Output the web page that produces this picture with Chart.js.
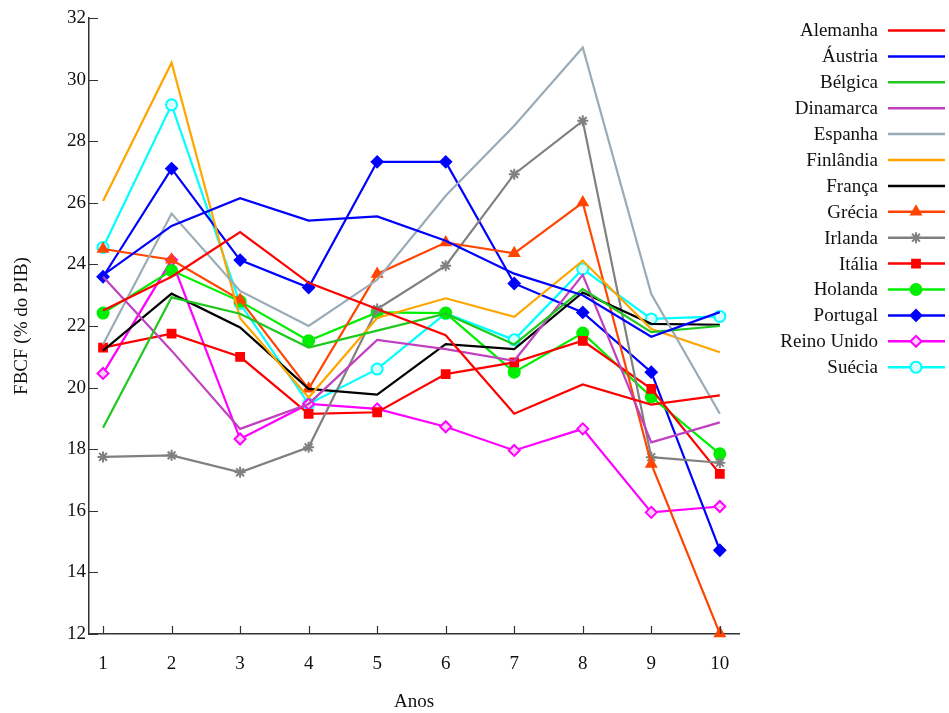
<!DOCTYPE html>
<html>
<head>
<meta charset="utf-8">
<script src="https://cdn.jsdelivr.net/npm/chart.js@4.4.1/dist/chart.umd.min.js"></script>
<style>
  html, body { margin: 0; padding: 0; background: #fff; }
  canvas { display: block; }
</style>
</head>
<body>
<canvas id="chart" width="949" height="713"></canvas>
<script>
// Anos 1..10
const anos = [1, 2, 3, 4, 5, 6, 7, 8, 9, 10];
const yTicks = [12, 14, 16, 18, 20, 22, 24, 26, 28, 30, 32];

// FBCF (% do PIB)
const alemanha   = [22.5, 23.6, 25.05, 23.4, 22.55, 21.7, 19.15, 20.1, 19.45, 19.75];
const austria    = [23.65, 25.25, 26.15, 25.42, 25.56, 24.77, 23.7, 23.0, 21.65, 22.45];
const belgica    = [18.7, 22.93, 22.4, 21.3, 21.85, 22.4, 21.4, 23.2, 21.8, 22.0];
const dinamarca  = [23.6, 21.2, 18.66, 19.47, 21.55, 21.25, 20.87, 23.66, 18.22, 18.87];
const espanha    = [21.4, 25.65, 23.14, 22.0, 23.5, 26.23, 28.5, 31.04, 23.04, 19.15];
const finlandia  = [26.06, 30.55, 22.25, 19.68, 22.26, 22.9, 22.3, 24.12, 21.9, 21.15];
const franca     = [21.2, 23.05, 21.95, 19.96, 19.77, 21.41, 21.25, 23.09, 22.07, 22.04];
const grecia     = [24.5, 24.15, 22.85, 19.96, 23.69, 24.71, 24.36, 26.01, 17.52, 12.02];
const irlanda    = [17.75, 17.8, 17.25, 18.06, 22.55, 23.96, 26.93, 28.66, 17.74, 17.56];
const italia     = [21.3, 21.75, 21.0, 19.15, 19.2, 20.44, 20.82, 21.52, 19.96, 17.2];
const holanda    = [22.42, 23.8, 22.8, 21.52, 22.44, 22.42, 20.5, 21.77, 19.7, 17.85];
const portugal   = [23.6, 27.11, 24.14, 23.25, 27.33, 27.33, 23.38, 22.44, 20.5, 14.72];
const reinoUnido = [20.46, 24.14, 18.33, 19.47, 19.31, 18.73, 17.96, 18.66, 15.95, 16.14];
const suecia     = [24.55, 29.18, 22.73, 19.47, 20.6, 22.41, 21.55, 23.85, 22.23, 22.31];

const FONT = '"Liberation Serif", "Times New Roman", serif';
const FSIZE = 19;

function serie(label, values, color, style, fill) {
    return {
        label: label,
        data: values.map((v, i) => ({ x: anos[i], y: v })),
        borderColor: color,
        backgroundColor: fill || color,
        borderWidth: 2.2,
        pointStyle: style || 'circle',
        pointRadius: style ? 5.5 : 0,
        pointBorderWidth: 2,
        pointHoverRadius: 0,
        tension: 0,
        clip: false
    };
}

const datasets = [
    serie('Alemanha', alemanha, '#ff0000'),
    serie('Áustria', austria, '#0000ff'),
    serie('Bélgica', belgica, '#1ec81e'),
    serie('Dinamarca', dinamarca, '#c040c0'),
    serie('Espanha', espanha, '#9aabb6'),
    serie('Finlândia', finlandia, '#ffa500'),
    serie('França', franca, '#000000'),
    serie('Grécia', grecia, '#ff4500', 'triangle'),
    serie('Irlanda', irlanda, '#808080', 'star'),
    serie('Itália', italia, '#ff0000', 'rect'),
    serie('Holanda', holanda, '#00ee00', 'circle'),
    serie('Portugal', portugal, '#0000ff', 'rectRot'),
    serie('Reino Unido', reinoUnido, '#ff00ff', 'rectRot', '#ffd0ff'),
    serie('Suécia', suecia, '#00ffff', 'circle', '#d8ffff')
];

// ticks pointing into the plot, like the original
const innerTicks = {
    id: 'innerTicks',
    afterDraw(chart) {
        const ctx = chart.ctx;
        const area = chart.chartArea;
        const xs = chart.scales.x, ys = chart.scales.y;
        ctx.save();
        ctx.strokeStyle = '#333';
        ctx.lineWidth = 1.2;
        ctx.beginPath();
        anos.forEach(v => {
            const px = Math.round(xs.getPixelForValue(v)) + 0.5;
            ctx.moveTo(px, area.bottom);
            ctx.lineTo(px, area.bottom - 8);
        });
        yTicks.forEach(v => {
            const py = Math.round(ys.getPixelForValue(v)) + 0.5;
            ctx.moveTo(area.left, py);
            ctx.lineTo(area.left + 9, py);
        });
        ctx.stroke();
        ctx.restore();
    }
};

// legend on the right: text right-aligned, sample line after it
const sideLegend = {
    id: 'sideLegend',
    afterDraw(chart) {
        const ctx = chart.ctx;
        ctx.save();
        ctx.font = FSIZE + 'px ' + FONT;
        ctx.textAlign = 'right';
        ctx.textBaseline = 'middle';
        chart.data.datasets.forEach((ds, i) => {
            const y = 30.5 + i * 25.9;
            ctx.fillStyle = '#111';
            ctx.fillText(ds.label, 878, y + 1);
            ctx.strokeStyle = ds.borderColor;
            ctx.lineWidth = 2.5;
            ctx.beginPath();
            ctx.moveTo(888, y);
            ctx.lineTo(945, y);
            ctx.stroke();
            if (ds.pointRadius > 0 && Chart.helpers && Chart.helpers.drawPoint) {
                ctx.fillStyle = ds.backgroundColor;
                ctx.lineWidth = 2;
                Chart.helpers.drawPoint(ctx, {
                    pointStyle: ds.pointStyle,
                    radius: ds.pointRadius,
                    rotation: 0,
                    borderWidth: 2
                }, 916, y);
            }
        });
        ctx.restore();
    }
};

new Chart(document.getElementById('chart'), {
    type: 'line',
    data: { datasets: datasets },
    options: {
        responsive: false,
        animation: false,
        events: [],
        layout: { padding: { top: 18, right: 210, left: 0, bottom: 0 } },
        scales: {
            x: {
                type: 'linear',
                min: 0.795,
                max: 10.28,
                afterBuildTicks: s => { s.ticks = anos.map(v => ({ value: v })); },
                afterFit: s => { s.height = 79; },
                grid: { display: true, drawOnChartArea: false, drawTicks: false },
                border: { display: true, color: '#333', width: 1.5 },
                ticks: { color: '#111', font: { family: FONT, size: FSIZE }, padding: 19 },
                title: {
                    display: true, text: 'Anos', color: '#111',
                    font: { family: FONT, size: FSIZE }, padding: { top: -6, bottom: 0 }
                }
            },
            y: {
                min: 12,
                max: 32,
                afterBuildTicks: s => { s.ticks = yTicks.map(v => ({ value: v })); },
                afterFit: s => { s.width = 89; },
                grid: { display: true, drawOnChartArea: false, drawTicks: false },
                border: { display: true, color: '#333', width: 1.5 },
                ticks: { color: '#111', font: { family: FONT, size: FSIZE }, padding: 3 },
                title: {
                    display: true, text: 'FBCF (% do PIB)', color: '#111',
                    font: { family: FONT, size: FSIZE }, padding: { top: 11, bottom: 0 }
                }
            }
        },
        plugins: {
            legend: { display: false },
            tooltip: { enabled: false }
        }
    },
    plugins: [innerTicks, sideLegend]
});
</script>
</body>
</html>
